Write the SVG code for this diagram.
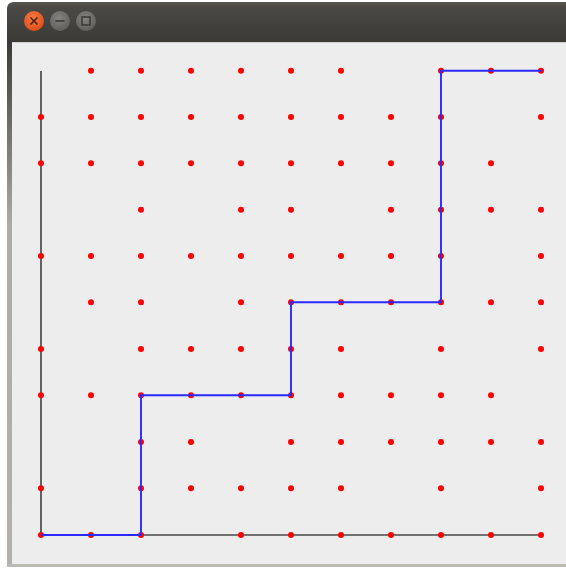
<svg xmlns="http://www.w3.org/2000/svg" width="566" height="569" viewBox="0 0 566 569">
<defs>
<linearGradient id="tb" x1="0" y1="0" x2="0" y2="1">
<stop offset="0" stop-color="#55544f"/>
<stop offset="0.15" stop-color="#4a4945"/>
<stop offset="1" stop-color="#3a3935"/>
</linearGradient>
<linearGradient id="lb" x1="0" y1="0" x2="0" y2="1">
<stop offset="0" stop-color="#3c3b37"/>
<stop offset="0.35" stop-color="#aeaaa5"/>
<stop offset="1" stop-color="#b4b0ab"/>
</linearGradient>
<radialGradient id="cl" cx="0.45" cy="0.35" r="0.7">
<stop offset="0" stop-color="#f57a45"/>
<stop offset="1" stop-color="#df4a15"/>
</radialGradient>
<radialGradient id="gb" cx="0.45" cy="0.35" r="0.7">
<stop offset="0" stop-color="#84837e"/>
<stop offset="1" stop-color="#5e5d59"/>
</radialGradient>
<style>
.d{fill:#ff0000}
.ax{fill:none;stroke:#4a4a4a;stroke-width:1.7}
.bl{fill:none;stroke:#2a2aff;stroke-width:1.9}
</style>
</defs>
<rect width="566" height="569" fill="#ffffff"/>
<g id="window">
<path d="M7 42 V9 Q7 2 14 2 H566 V42 Z" fill="url(#tb)"/>
<rect x="7" y="42" width="5" height="522" fill="url(#lb)"/>
<rect x="12" y="42" width="554" height="522" fill="#ededed"/>
<rect x="12" y="42" width="554" height="1" fill="#cfcfcf"/>
<rect x="7" y="564" width="559" height="3" fill="#bdbab6"/>
<circle cx="34" cy="21" r="10" fill="url(#cl)"/>
<path d="M30.5 17.5 L37.5 24.5 M37.5 17.5 L30.5 24.5" stroke="#4a2416" stroke-width="1.6"/>
<circle cx="60" cy="21" r="10" fill="url(#gb)"/>
<path d="M55.5 21 H64.5" stroke="#3a3935" stroke-width="1.6"/>
<circle cx="86" cy="21" r="10" fill="url(#gb)"/>
<rect x="82" y="17" width="8" height="8" fill="none" stroke="#3a3935" stroke-width="1.5"/>
</g>
<g id="axes">
<path class="ax" d="M41 71 V535 H541"/>
</g>
<g id="dots">
<circle class="d" cx="91" cy="70.7" r="3"/><circle class="d" cx="141" cy="70.7" r="3"/><circle class="d" cx="191" cy="70.7" r="3"/><circle class="d" cx="241" cy="70.7" r="3"/><circle class="d" cx="291" cy="70.7" r="3"/><circle class="d" cx="341" cy="70.7" r="3"/><circle class="d" cx="441" cy="70.7" r="3"/><circle class="d" cx="491" cy="70.7" r="3"/><circle class="d" cx="541" cy="70.7" r="3"/>
<circle class="d" cx="41" cy="117" r="3"/><circle class="d" cx="91" cy="117" r="3"/><circle class="d" cx="141" cy="117" r="3"/><circle class="d" cx="191" cy="117" r="3"/><circle class="d" cx="241" cy="117" r="3"/><circle class="d" cx="291" cy="117" r="3"/><circle class="d" cx="341" cy="117" r="3"/><circle class="d" cx="391" cy="117" r="3"/><circle class="d" cx="441" cy="117" r="3"/><circle class="d" cx="541" cy="117" r="3"/>
<circle class="d" cx="41" cy="163.3" r="3"/><circle class="d" cx="91" cy="163.3" r="3"/><circle class="d" cx="141" cy="163.3" r="3"/><circle class="d" cx="191" cy="163.3" r="3"/><circle class="d" cx="241" cy="163.3" r="3"/><circle class="d" cx="291" cy="163.3" r="3"/><circle class="d" cx="341" cy="163.3" r="3"/><circle class="d" cx="391" cy="163.3" r="3"/><circle class="d" cx="441" cy="163.3" r="3"/><circle class="d" cx="491" cy="163.3" r="3"/>
<circle class="d" cx="141" cy="209.7" r="3"/><circle class="d" cx="241" cy="209.7" r="3"/><circle class="d" cx="291" cy="209.7" r="3"/><circle class="d" cx="391" cy="209.7" r="3"/><circle class="d" cx="441" cy="209.7" r="3"/><circle class="d" cx="491" cy="209.7" r="3"/><circle class="d" cx="541" cy="209.7" r="3"/>
<circle class="d" cx="41" cy="256" r="3"/><circle class="d" cx="91" cy="256" r="3"/><circle class="d" cx="141" cy="256" r="3"/><circle class="d" cx="191" cy="256" r="3"/><circle class="d" cx="241" cy="256" r="3"/><circle class="d" cx="291" cy="256" r="3"/><circle class="d" cx="341" cy="256" r="3"/><circle class="d" cx="391" cy="256" r="3"/><circle class="d" cx="441" cy="256" r="3"/><circle class="d" cx="541" cy="256" r="3"/>
<circle class="d" cx="91" cy="302.3" r="3"/><circle class="d" cx="141" cy="302.3" r="3"/><circle class="d" cx="241" cy="302.3" r="3"/><circle class="d" cx="291" cy="302.3" r="3"/><circle class="d" cx="341" cy="302.3" r="3"/><circle class="d" cx="391" cy="302.3" r="3"/><circle class="d" cx="441" cy="302.3" r="3"/><circle class="d" cx="491" cy="302.3" r="3"/><circle class="d" cx="541" cy="302.3" r="3"/>
<circle class="d" cx="41" cy="349" r="3"/><circle class="d" cx="141" cy="349" r="3"/><circle class="d" cx="191" cy="349" r="3"/><circle class="d" cx="241" cy="349" r="3"/><circle class="d" cx="291" cy="349" r="3"/><circle class="d" cx="341" cy="349" r="3"/><circle class="d" cx="441" cy="349" r="3"/><circle class="d" cx="541" cy="349" r="3"/>
<circle class="d" cx="41" cy="395.3" r="3"/><circle class="d" cx="91" cy="395.3" r="3"/><circle class="d" cx="141" cy="395.3" r="3"/><circle class="d" cx="191" cy="395.3" r="3"/><circle class="d" cx="241" cy="395.3" r="3"/><circle class="d" cx="291" cy="395.3" r="3"/><circle class="d" cx="341" cy="395.3" r="3"/><circle class="d" cx="391" cy="395.3" r="3"/><circle class="d" cx="441" cy="395.3" r="3"/><circle class="d" cx="491" cy="395.3" r="3"/>
<circle class="d" cx="141" cy="442" r="3"/><circle class="d" cx="191" cy="442" r="3"/><circle class="d" cx="291" cy="442" r="3"/><circle class="d" cx="341" cy="442" r="3"/><circle class="d" cx="391" cy="442" r="3"/><circle class="d" cx="441" cy="442" r="3"/><circle class="d" cx="491" cy="442" r="3"/><circle class="d" cx="541" cy="442" r="3"/>
<circle class="d" cx="41" cy="488.3" r="3"/><circle class="d" cx="141" cy="488.3" r="3"/><circle class="d" cx="191" cy="488.3" r="3"/><circle class="d" cx="241" cy="488.3" r="3"/><circle class="d" cx="291" cy="488.3" r="3"/><circle class="d" cx="341" cy="488.3" r="3"/><circle class="d" cx="441" cy="488.3" r="3"/><circle class="d" cx="541" cy="488.3" r="3"/>
<circle class="d" cx="41" cy="535" r="3"/><circle class="d" cx="91" cy="535" r="3"/><circle class="d" cx="141" cy="535" r="3"/><circle class="d" cx="241" cy="535" r="3"/><circle class="d" cx="291" cy="535" r="3"/><circle class="d" cx="341" cy="535" r="3"/><circle class="d" cx="391" cy="535" r="3"/><circle class="d" cx="441" cy="535" r="3"/><circle class="d" cx="491" cy="535" r="3"/><circle class="d" cx="541" cy="535" r="3"/>
</g>
<g id="connectors">
<path class="bl" d="M41 535 H141 V395.3 H291 V302.3 H441 V70.7 H541"/>
</g>
</svg>
